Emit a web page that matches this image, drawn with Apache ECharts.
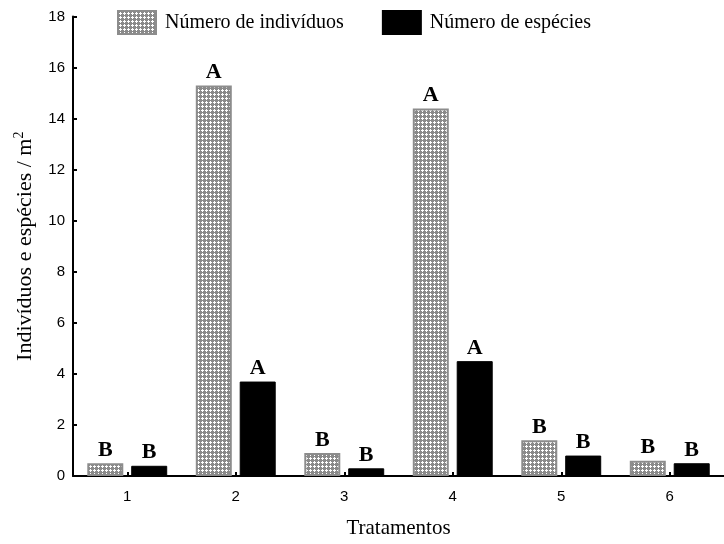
<!DOCTYPE html>
<html>
<head>
<meta charset="utf-8">
<script src="https://cdn.jsdelivr.net/npm/echarts@6/dist/echarts.min.js"></script>
<style>
  html, body { margin: 0; padding: 0; background: #fff; }
  #chart { width: 724px; height: 544px; }
</style>
</head>
<body>
<div id="chart"></div>
<script>
// Treatments and their mean densities per m²
const tratamentos = ['1', '2', '3', '4', '5', '6'];
const individuos = [0.5, 15.3, 0.9, 14.4, 1.4, 0.6];
const especies = [0.4, 3.7, 0.3, 4.5, 0.8, 0.5];
// Significance letters above each bar
const letrasInd = ['B', 'A', 'B', 'A', 'B', 'B'];
const letrasEsp = ['B', 'A', 'B', 'A', 'B', 'B'];
const yTicks = { min: 0, max: 18, interval: 2 };

// Grey cross-hatch fill for the individuals bars
function makeHatch() {
  const c = document.createElement('canvas');
  c.width = 4; c.height = 4;
  const ctx = c.getContext('2d');
  ctx.fillStyle = '#8a8a8a';
  ctx.fillRect(0, 0, 4, 4);
  ctx.fillStyle = '#ffffff';
  ctx.fillRect(2, 1, 1, 3);
  ctx.fillRect(1, 2, 3, 1);
  return { image: c, repeat: 'repeat' };
}
const hatch = makeHatch();

const serif = 'Liberation Serif';
const sans = 'Liberation Sans';

const letterLabel = (letters) => ({
  show: true,
  position: 'top',
  distance: 2,
  fontFamily: serif,
  fontWeight: 'bold',
  fontSize: 22,
  color: '#000',
  formatter: (p) => letters[p.dataIndex]
});

const chart = echarts.init(document.getElementById('chart'), null, { renderer: 'canvas' });
chart.setOption({
  animation: false,
  backgroundColor: '#fff',
  grid: { left: 73, right: -9, top: 16.5, bottom: 64, containLabel: false },
  legend: {
    left: 112,
    top: 5,
    itemWidth: 38,
    itemHeight: 23,
    itemGap: 38,
    icon: 'rect',
    textStyle: { fontFamily: serif, fontSize: 20, color: '#000', padding: [0, 0, 0, 4] },
    data: ['Número de indivíduos', 'Número de espécies']
  },
  xAxis: {
    type: 'category',
    data: tratamentos,
    name: 'Tratamentos',
    nameLocation: 'middle',
    nameGap: 42,
    nameTextStyle: { fontFamily: serif, fontSize: 21, color: '#000' },
    axisLine: { show: true, lineStyle: { color: '#000', width: 2 } },
    axisTick: { show: true, alignWithLabel: true, inside: true, length: 4, lineStyle: { color: '#000', width: 2 } },
    axisLabel: { fontFamily: sans, fontSize: 15, color: '#000', margin: 13 },
    splitLine: { show: false }
  },
  yAxis: {
    type: 'value',
    min: yTicks.min,
    max: yTicks.max,
    interval: yTicks.interval,
    name: 'Indivíduos e espécies / m{sup|2}',
    nameLocation: 'middle',
    nameGap: 35,
    nameRotate: 90,
    nameTextStyle: {
      fontFamily: serif, fontSize: 22, color: '#000',
      rich: { sup: { fontFamily: serif, fontSize: 14, color: '#000', verticalAlign: 'top', padding: [0, 0, 12, 0] } }
    },
    axisLine: { show: true, lineStyle: { color: '#000', width: 2 } },
    axisTick: { show: true, inside: true, length: 4, lineStyle: { color: '#000', width: 2 } },
    axisLabel: { fontFamily: sans, fontSize: 15, color: '#000', margin: 8 },
    splitLine: { show: false }
  },
  series: [
    {
      name: 'Número de indivíduos',
      type: 'bar',
      data: individuos,
      barWidth: 36,
      barGap: '22%',
      itemStyle: { color: hatch, borderColor: '#8c8c8c', borderWidth: 2 },
      label: letterLabel(letrasInd)
    },
    {
      name: 'Número de espécies',
      type: 'bar',
      data: especies,
      barWidth: 36,
      itemStyle: { color: '#000', borderColor: '#000', borderWidth: 1 },
      label: letterLabel(letrasEsp)
    }
  ]
});
</script>
</body>
</html>
